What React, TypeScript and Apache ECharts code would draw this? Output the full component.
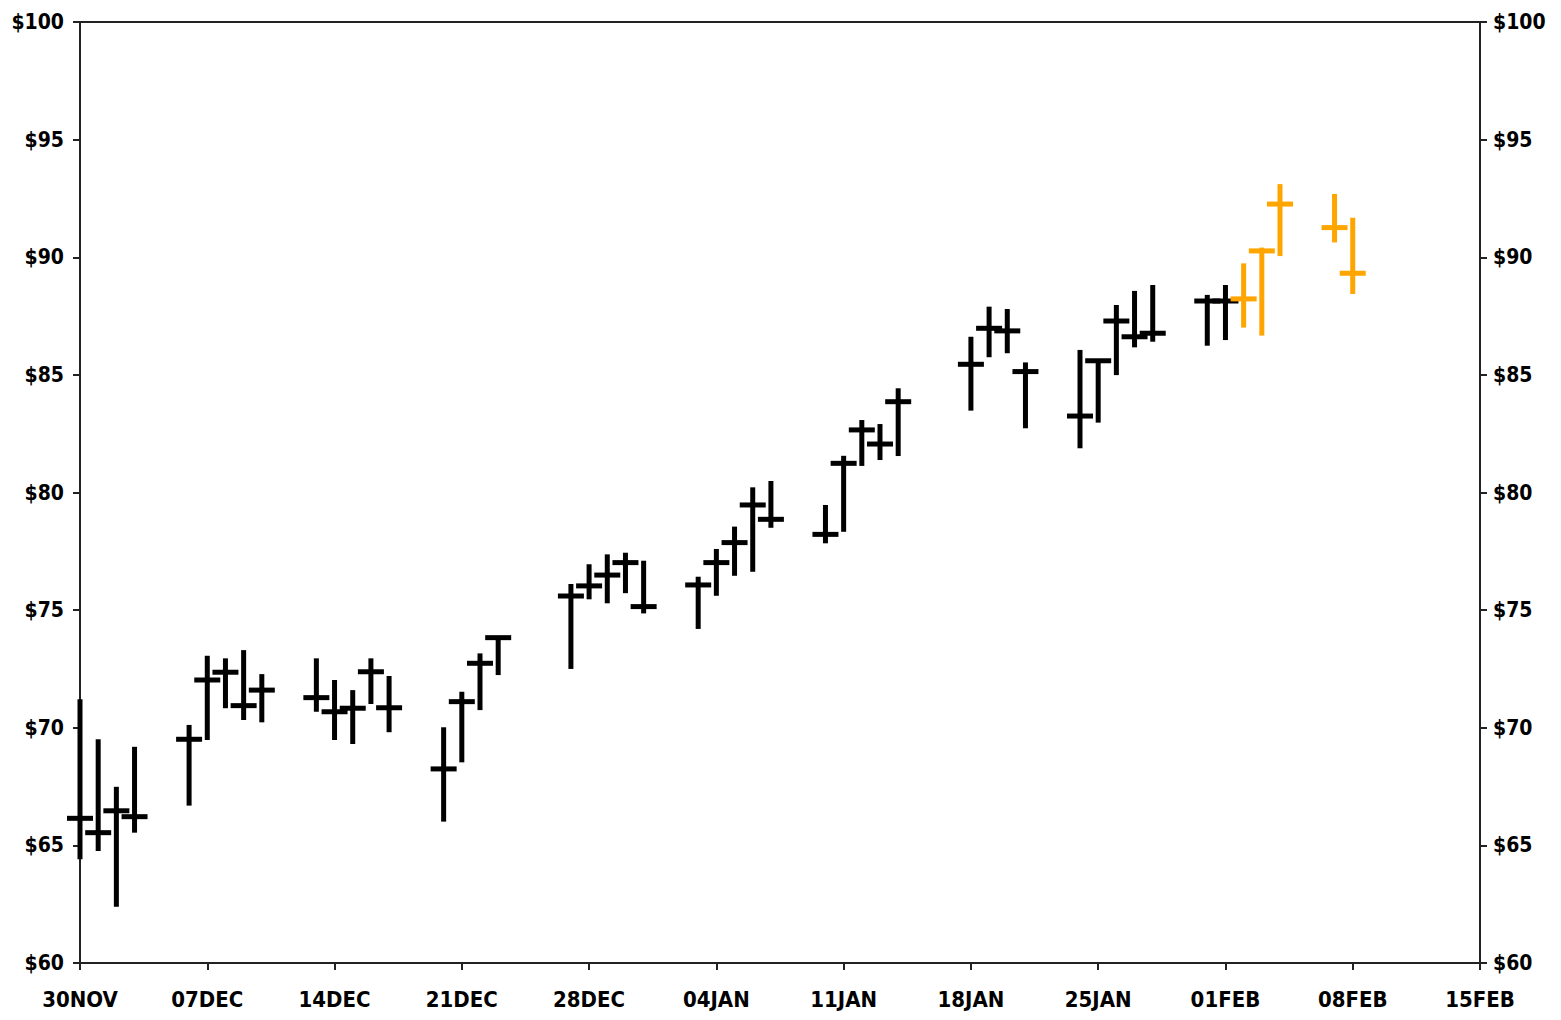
import { useEffect, useRef } from 'react';
import * as echarts from 'echarts';

const startDate = '2010-11-30';
const endDate = '2011-02-15';
const monthNames = ['JAN', 'FEB', 'MAR', 'APR', 'MAY', 'JUN', 'JUL', 'AUG', 'SEP', 'OCT', 'NOV', 'DEC'];

const actualDates = [
  '2010-11-30', '2010-12-01', '2010-12-02', '2010-12-03',
  '2010-12-06', '2010-12-07', '2010-12-08', '2010-12-09', '2010-12-10',
  '2010-12-13', '2010-12-14', '2010-12-15', '2010-12-16', '2010-12-17',
  '2010-12-20', '2010-12-21', '2010-12-22', '2010-12-23',
  '2010-12-27', '2010-12-28', '2010-12-29', '2010-12-30', '2010-12-31',
  '2011-01-03', '2011-01-04', '2011-01-05', '2011-01-06', '2011-01-07',
  '2011-01-10', '2011-01-11', '2011-01-12', '2011-01-13', '2011-01-14',
  '2011-01-18', '2011-01-19', '2011-01-20', '2011-01-21',
  '2011-01-24', '2011-01-25', '2011-01-26', '2011-01-27', '2011-01-28',
  '2011-01-31', '2011-02-01',
];
const actualHighs = [
  71.21, 69.51, 67.49, 69.19,
  70.12, 73.06, 72.95, 73.3, 72.28,
  72.95, 72.03, 71.6, 72.95, 72.2,
  70.02, 71.53, 73.16, 73.83,
  76.11, 76.95, 77.37, 77.44, 77.1,
  76.42, 77.6, 78.55, 80.22, 80.49,
  79.47, 81.56, 83.08, 82.91, 84.43,
  86.62, 87.9, 87.8, 85.53,
  86.06, 85.6, 87.97, 88.57, 88.82,
  88.4, 88.82,
];
const actualLows = [
  64.41, 64.76, 62.39, 65.54,
  66.69, 69.48, 70.83, 70.33, 70.23,
  70.68, 69.48, 69.31, 71.01, 69.81,
  66.01, 68.53, 70.75, 72.24,
  72.5, 75.46, 75.29, 75.72, 74.86,
  74.2, 75.61, 76.46, 76.63, 78.5,
  77.84, 78.33, 81.13, 81.38, 81.55,
  83.48, 85.75, 85.92, 82.73,
  81.88, 82.97, 84.99, 86.17, 86.41,
  86.24, 86.48,
];
const actualCloses = [
  66.15, 65.54, 66.47, 66.22,
  69.51, 72.03, 72.36, 70.94, 71.6,
  71.28, 70.68, 70.83, 72.38, 70.85,
  68.25, 71.11, 72.74, 73.83,
  75.6, 76.03, 76.49, 77.02, 75.15,
  76.07, 77.02, 77.87, 79.47, 78.86,
  78.22, 81.24, 82.66, 82.06, 83.86,
  85.45, 86.98, 86.87, 85.14,
  83.25, 85.6, 87.29, 86.62, 86.77,
  88.14, 88.14,
];

const forecastDates = ['2011-02-02', '2011-02-03', '2011-02-04', '2011-02-07', '2011-02-08'];
const forecastHighs = [89.74, 90.41, 93.11, 92.69, 91.68];
const forecastLows = [87.01, 86.67, 90.05, 90.63, 88.44];
const forecastCloses = [88.23, 90.27, 92.26, 91.26, 89.32];

const priceMin = 60;
const priceMax = 100;
const priceStep = 5;
const dayStep = 7;

const DAY = 86400000;
const baseMs = Date.parse(startDate + 'T00:00:00Z');
const dayIndex = (d: string) => Math.round((Date.parse(d + 'T00:00:00Z') - baseMs) / DAY);
const totalDays = dayIndex(endDate);
const tickLabel = (day: number) => {
  const t = new Date(baseMs + Math.round(day) * DAY);
  return String(t.getUTCDate()).padStart(2, '0') + monthNames[t.getUTCMonth()];
};

const FONT = "'DejaVu Sans Condensed', 'Liberation Sans Narrow', 'DejaVu Sans', sans-serif";

const makeRender = (color: string) => (params: any, api: any) => {
  const x = api.value(0);
  const pHi = api.coord([x, api.value(1)]);
  const pLo = api.coord([x, api.value(2)]);
  const pCl = api.coord([x, api.value(3)]);
  return {
    type: 'group',
    children: [
      {
        type: 'line',
        shape: { x1: pHi[0], y1: pHi[1], x2: pLo[0], y2: pLo[1] },
        style: { stroke: color, lineWidth: 5, lineCap: 'butt' },
      },
      {
        type: 'line',
        shape: { x1: pCl[0] - 13, y1: pCl[1], x2: pCl[0] + 13, y2: pCl[1] },
        style: { stroke: color, lineWidth: 5, lineCap: 'butt' },
      },
    ],
  };
};

export default function App() {
  const ref = useRef<HTMLDivElement>(null);
  useEffect(() => {
    if (!ref.current) return;
    const chart = echarts.init(ref.current, undefined, { renderer: 'svg' });
    const actualData = actualDates.map((d, i) => [dayIndex(d), actualHighs[i], actualLows[i], actualCloses[i]]);
    const forecastData = forecastDates.map((d, i) => [dayIndex(d), forecastHighs[i], forecastLows[i], forecastCloses[i]]);
    const axisLine = { show: true, lineStyle: { color: '#222', width: 2 } };
    const axisTick = { show: true, inside: false, length: 7, lineStyle: { color: '#222', width: 2 } };
    const labelStyle = { color: '#000', fontFamily: FONT, fontWeight: 'bold' as const, fontSize: 21 };
    const yAxisBase = {
      type: 'value' as const,
      min: priceMin,
      max: priceMax,
      interval: priceStep,
      axisLine,
      axisTick,
      splitLine: { show: false },
    };
    chart.setOption({
      animation: false,
      backgroundColor: '#fff',
      grid: { left: 80, right: 81, top: 22, bottom: 57, show: true, borderColor: '#222', borderWidth: 2, backgroundColor: 'transparent' },
      xAxis: {
        type: 'value',
        min: 0,
        max: totalDays,
        interval: dayStep,
        axisLine,
        axisTick,
        splitLine: { show: false },
        axisLabel: { ...labelStyle, fontSize: 22, margin: 25, formatter: (v: number) => tickLabel(v) },
      },
      yAxis: [
        { ...yAxisBase, position: 'left', axisLabel: { ...labelStyle, margin: 16, formatter: (v: number) => '$' + v } },
        { ...yAxisBase, position: 'right', axisLabel: { ...labelStyle, margin: 13, formatter: (v: number) => '$' + v } },
      ],
      series: [
        {
          name: 'Actual',
          type: 'custom',
          yAxisIndex: 0,
          renderItem: makeRender('#000000'),
          encode: { x: 0, y: [1, 2, 3] },
          data: actualData,
        },
        {
          name: 'Forecast',
          type: 'custom',
          yAxisIndex: 0,
          renderItem: makeRender('#FFA500'),
          encode: { x: 0, y: [1, 2, 3] },
          data: forecastData,
        },
      ],
    });
    return () => chart.dispose();
  }, []);
  return <div ref={ref} style={{ position: 'absolute', left: 0, top: 0, width: 1561, height: 1020 }} />;
}
